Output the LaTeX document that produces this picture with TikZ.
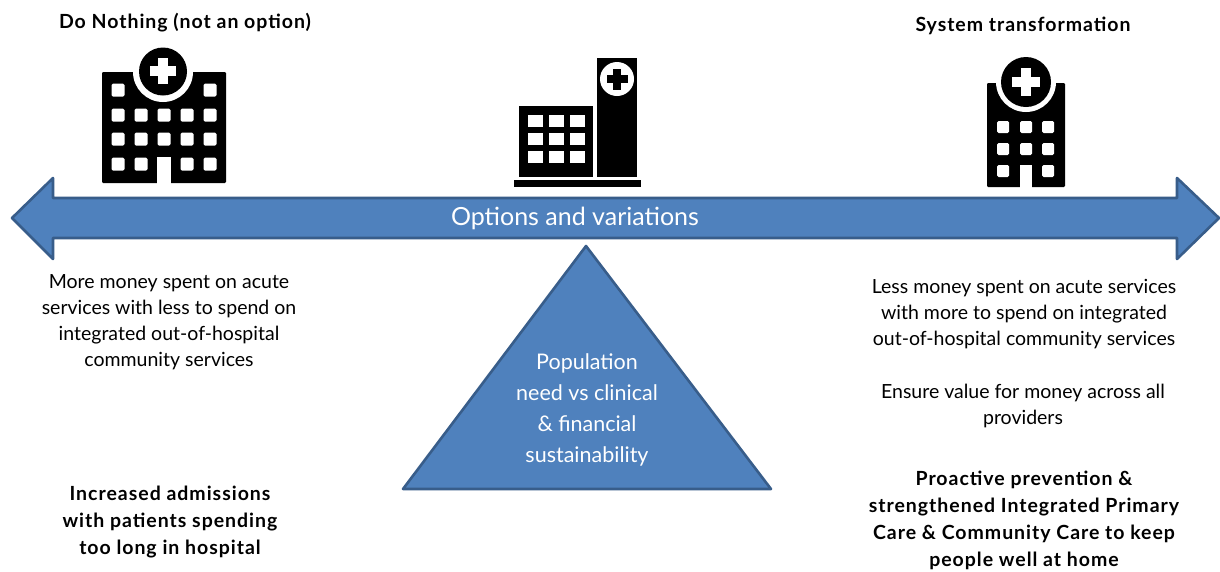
\documentclass[tikz,border=0pt]{standalone}
\usepackage{fontspec}
\setmainfont{Lato}
\definecolor{blfill}{HTML}{4F81BD}
\definecolor{bledge}{HTML}{385D8A}
\tikzset{x=1pt,y=-1pt,
 shapeb/.style={fill=blfill,draw=bledge,line width=2.6pt,line join=round},
 body/.style={align=center,inner sep=0pt,font=\fontsize{19.5}{26}\selectfont},
 bodyb/.style={align=center,inner sep=0pt,font=\fontsize{19.5}{27}\selectfont\addfontfeatures{LetterSpace=5}\bfseries},
 inv/.style={align=center,inner sep=0pt,text=white},
 blk/.style={fill=black,rounded corners=1.2pt},
 win/.style={fill=white,rounded corners=1.5pt},
}
\newcommand{\plusat}[4]{% x y half-arm half-width + current color via #4
 \fill[#4] (#1-#3,#2-#3*0.36) rectangle (#1+#3,#2+#3*0.36);
 \fill[#4] (#1-#3*0.36,#2-#3) rectangle (#1+#3*0.36,#2+#3);}
\newcommand{\winat}[4]{\fill[win] (#1-#3,#2-#3) rectangle (#1+#3,#2+#3);}
\begin{document}
\begin{tikzpicture}
\useasboundingbox (0,0) rectangle (1220,571);
\fill[white] (0,0) rectangle (1220,571);
% hospital 1
\fill[blk] (102,72) rectangle (226,183);
\fill[white] (163,72) circle (30);
\fill[white] (130,42) rectangle (196,71.5);
\fill[black] (163,71.5) circle (24);
\plusat{163}{71}{13}{white}
\foreach \x/\y in {118/90,210/90,118/115,141/115,164/115,187/115,210/115,118/139,141/139,164/139,187/139,210/139,118/164,141/164,187/164,210/164}{\winat{\x}{\y}{6.5}{}}
\fill[white] (157,157) rectangle (171,184);
% hospital 2
\fill[black] (519,106) rectangle (593,177);
\fill[black] (597,58) rectangle (637,177);
\fill[black] (514,180) rectangle (641,187);
\foreach \x in {535,556,577}\foreach \y in {121,139,157}{\fill[white] (\x-7.5,\y-6) rectangle (\x+7.5,\y+6);}
\fill[white] (617,79) circle (17);
\plusat{617}{79}{10.5}{black}
% hospital 3
\fill[blk] (987,83) rectangle (1065,187);
\fill[white] (1026,82) circle (30);
\fill[white] (993,50) rectangle (1059,82);
\fill[black] (1026,82) circle (25);
\plusat{1026}{82}{14}{white}
\foreach \x/\y in {1003/127,1026/127,1048/127,1003/149,1026/149,1048/149,1003/171,1048/171}{\winat{\x}{\y}{6}{}}
\fill[white] (1020,165) rectangle (1032,188);
% arrow
\path[shapeb] (12,218) -- (53,178) -- (53,198) -- (1177,198) -- (1177,178) -- (1219,218) -- (1177,259) -- (1177,238) -- (53,238) -- (53,259) -- cycle;
\node[inv,font=\fontsize{25}{30}\selectfont] (opt) at (575,218) {Options and variations};
% triangle
\path[shapeb] (586,246) -- (771,489) -- (403,489) -- cycle;
\node[inv,font=\fontsize{21.5}{31}\selectfont] (tri) at (587,410) {Population\\need vs clinical\\\&{} financial\\sustainability};
% texts
\node[bodyb] (t1) at (185,23) {Do Nothing (not an option)};
\node[bodyb] (t2) at (1023,26) {System transformation};
\node[body] (l1) at (169,322) {More money spent on acute\\services with less to spend on\\integrated out-of-hospital\\community services};
\node[bodyb] (l2) at (170,522) {Increased admissions\\with patients spending\\too long in hospital};
\node[body] (r1) at (1024,314) {Less money spent on acute services\\with more to spend on integrated\\out-of-hospital community services};
\node[body] (r2) at (1023,406) {Ensure value for money across all\\providers};
\node[bodyb] (r3) at (1024,520) {Proactive prevention \&\\strengthened Integrated Primary\\Care \&{} Community Care to keep\\people well at home};
\end{tikzpicture}
\end{document}
